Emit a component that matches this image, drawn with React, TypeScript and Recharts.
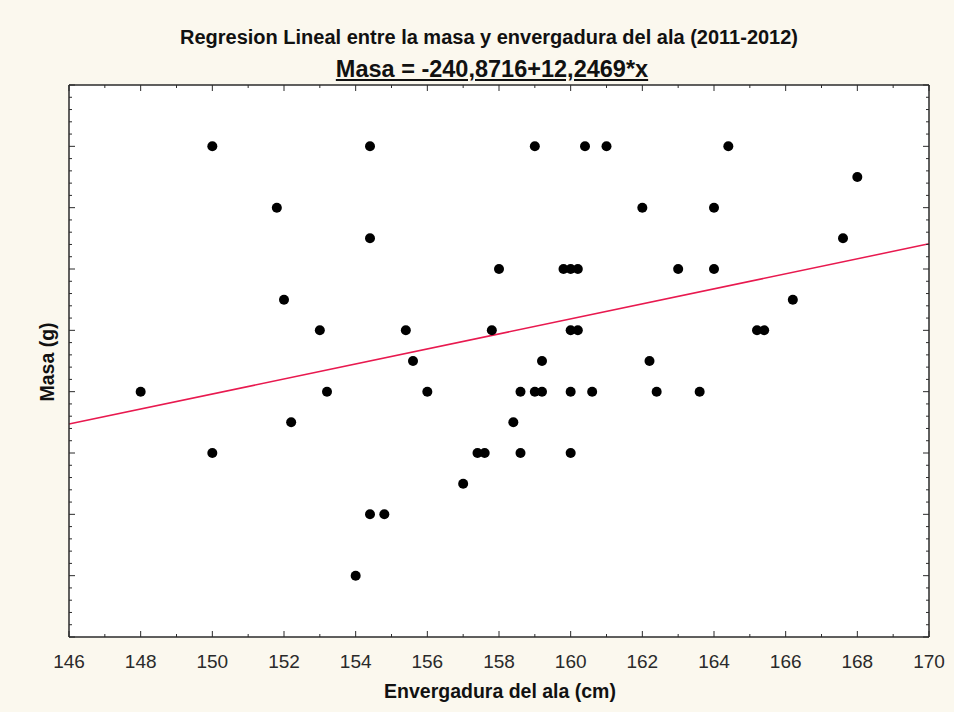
import { ScatterChart, Scatter, XAxis, YAxis, CartesianGrid, ReferenceLine } from "recharts";

// envergadura del ala (cm) and masa (g)
const envergadura = [
  150, 154.4, 159, 160.4, 161, 164.4,
  168,
  151.8, 162, 164,
  154.4, 167.6,
  158, 159.8, 160, 160.2, 163, 164,
  152, 166.2,
  153, 155.4, 157.8, 160, 160.2, 165.2, 165.4,
  155.6, 159.2, 162.2,
  148, 153.2, 156, 158.6, 159, 159.2, 160, 160.6, 162.4, 163.6,
  152.2, 158.4,
  150, 157.4, 157.6, 158.6, 160,
  157,
  154.4, 154.8,
  154,
];
const masa = [
  2000, 2000, 2000, 2000, 2000, 2000,
  1950,
  1900, 1900, 1900,
  1850, 1850,
  1800, 1800, 1800, 1800, 1800, 1800,
  1750, 1750,
  1700, 1700, 1700, 1700, 1700, 1700, 1700,
  1650, 1650, 1650,
  1600, 1600, 1600, 1600, 1600, 1600, 1600, 1600, 1600, 1600,
  1550, 1550,
  1500, 1500, 1500, 1500, 1500,
  1450,
  1400, 1400,
  1300,
];

const intercept = -240.8716;
const slope = 12.2469;

const xDomain = [146, 170];
const yDomain = [1200, 2100];
const xLabels = [146, 148, 150, 152, 154, 156, 158, 160, 162, 164, 166, 168, 170];
const yMajor = [1200, 1300, 1400, 1500, 1600, 1700, 1800, 1900, 2000, 2100];

const data = envergadura.map((x, i) => ({ x, y: masa[i] }));

// minor tick marks: every 1 cm on x, every 20 g on y
const xTicks: number[] = [];
for (let v = xDomain[0]; v <= xDomain[1]; v += 1) xTicks.push(v);
const yTicks: number[] = [];
for (let v = yDomain[0]; v <= yDomain[1]; v += 20) yTicks.push(v);

const FONT = '"Liberation Sans", Arial, sans-serif';
const INK = "#2b2b2b";

const XTick = ({ x, y, payload, side }: any) => {
  const major = xLabels.includes(payload.value);
  const len = major ? 6 : 3;
  const dir = side === "bottom" ? -1 : 1;
  return (
    <g>
      <line x1={x} y1={y} x2={x} y2={y + dir * len} stroke={INK} strokeWidth={1} />
      {side === "bottom" && major && (
        <text x={x} y={y + 31} textAnchor="middle" fontFamily={FONT} fontSize={19} fill="#2a2a2a">
          {payload.value}
        </text>
      )}
    </g>
  );
};

const YTick = ({ x, y, payload, side }: any) => {
  const major = yMajor.includes(payload.value);
  const len = major ? 6 : 3;
  const dir = side === "left" ? 1 : -1;
  return <line x1={x} y1={y} x2={x + dir * len} y2={y} stroke={INK} strokeWidth={1} />;
};

export default function App() {
  return (
    <div style={{ position: "absolute", left: 0, top: 0, width: 954, height: 712, background: "#fbf8ee", fontFamily: FONT }}>
      <ScatterChart width={954} height={712} margin={{ top: 84, right: 24, bottom: 74, left: 68 }} style={{ position: "absolute", left: 0, top: 0 }}>
        <CartesianGrid xAxisId="b" yAxisId="l" horizontal={false} vertical={false} fill="#ffffff" />
        <XAxis xAxisId="b" type="number" dataKey="x" domain={xDomain} ticks={xTicks} interval={0} height={1}
          tickSize={0} tickMargin={0} tickLine={false} allowDataOverflow
          axisLine={{ stroke: INK, strokeWidth: 1.5 }}
          tick={(p: any) => <XTick {...p} side="bottom" />} />
        <XAxis xAxisId="t" orientation="top" type="number" dataKey="x" domain={xDomain} ticks={xTicks} interval={0} height={1}
          tickSize={0} tickMargin={0} tickLine={false} allowDataOverflow
          axisLine={{ stroke: INK, strokeWidth: 1.5 }}
          tick={(p: any) => <XTick {...p} side="top" />} />
        <YAxis yAxisId="l" type="number" dataKey="y" domain={yDomain} ticks={yTicks} interval={0} width={1}
          tickSize={0} tickMargin={0} tickLine={false} allowDataOverflow
          axisLine={{ stroke: INK, strokeWidth: 1.5 }}
          tick={(p: any) => <YTick {...p} side="left" />} />
        <YAxis yAxisId="r" orientation="right" type="number" dataKey="y" domain={yDomain} ticks={yTicks} interval={0} width={1}
          tickSize={0} tickMargin={0} tickLine={false} allowDataOverflow
          axisLine={{ stroke: INK, strokeWidth: 1.5 }}
          tick={(p: any) => <YTick {...p} side="right" />} />
        <ReferenceLine xAxisId="b" yAxisId="l" ifOverflow="visible"
          segment={[
            { x: xDomain[0], y: intercept + slope * xDomain[0] },
            { x: xDomain[1], y: intercept + slope * xDomain[1] },
          ]}
          stroke="#e8194f" strokeWidth={1.5} />
        <Scatter xAxisId="b" yAxisId="l" data={data} isAnimationActive={false}
          shape={(p: any) => <circle cx={p.cx} cy={p.cy} r={5} fill="#000" />} />
      </ScatterChart>
      <div style={{ position: "absolute", left: 0, width: 978, top: 26, textAlign: "center", fontWeight: "bold", fontSize: 20, color: "#111" }}>
        Regresion Lineal entre la masa y envergadura del ala (2011-2012)
      </div>
      <div style={{ position: "absolute", left: 0, width: 984, top: 56, textAlign: "center", fontWeight: "bold", fontSize: 23.5, color: "#111", textDecoration: "underline" }}>
        Masa = -240,8716+12,2469*x
      </div>
      <div style={{ position: "absolute", left: 69, width: 862, top: 680, textAlign: "center", fontWeight: "bold", fontSize: 19.5, color: "#111" }}>
        Envergadura del ala (cm)
      </div>
      <div style={{ position: "absolute", left: 47, top: 362, transform: "translate(-50%, -50%) rotate(-90deg)", fontWeight: "bold", fontSize: 19.5, color: "#111", whiteSpace: "nowrap" }}>
        Masa (g)
      </div>
    </div>
  );
}
